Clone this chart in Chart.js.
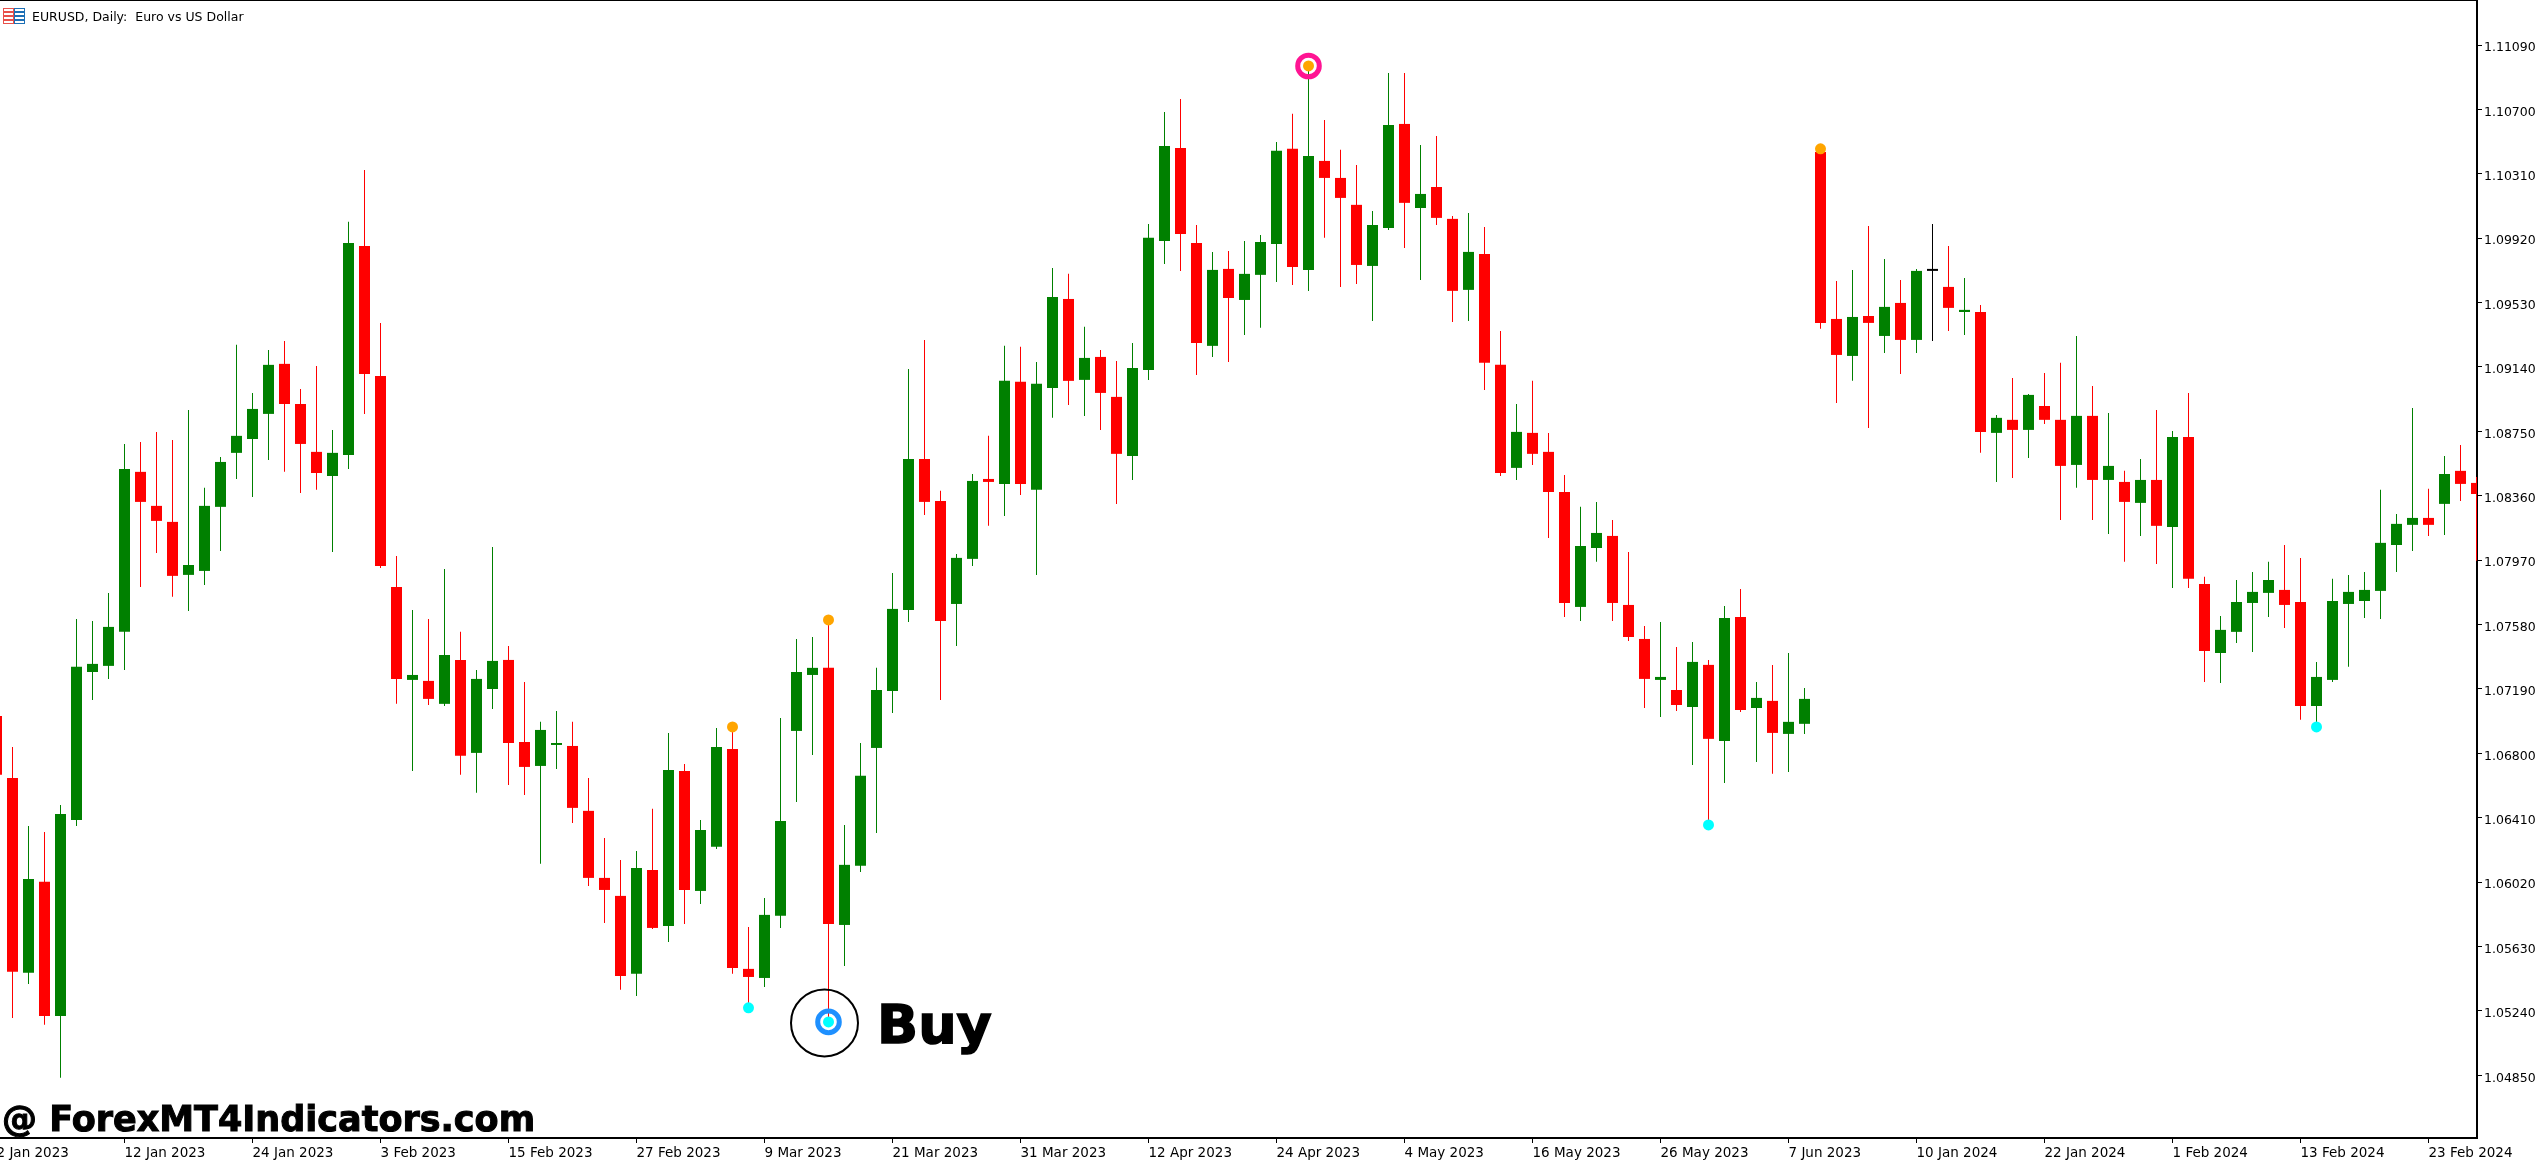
<!DOCTYPE html>
<html>
<head>
<meta charset="utf-8">
<title>EURUSD, Daily</title>
<script src="https://cdn.jsdelivr.net/npm/chart.js@4/dist/chart.umd.min.js"></script>
<style>
  html, body { margin: 0; padding: 0; background: #fff; }
  #wrap { position: relative; width: 2538px; height: 1160px; overflow: hidden; }
  #chart { position: absolute; left: 0; top: 0; }
  .topline { position: absolute; left: 0; top: 0; width: 2477px; height: 1px; background: #000; }
  .icon { position: absolute; top: 8px; width: 9px; height: 14px; border: 1px solid; box-sizing: content-box;
          background: repeating-linear-gradient(#fff 0 2px, currentColor 2px 4px); }
  .title { position: absolute; left: 32px; top: 9px; font: 12.5px "DejaVu Sans"; color: #000; white-space: pre; }
  .site { position: absolute; left: 2px; top: 1099px; font: bold 35px "DejaVu Sans"; color: #000; white-space: pre;
          -webkit-text-stroke: 1px #000; }
  .buy { position: absolute; left: 877px; top: 993px; font: bold 54px "DejaVu Sans"; color: #000;
         -webkit-text-stroke: 1.5px #000; }
</style>
</head>
<body>
<div id="wrap">
  <canvas id="chart" width="2538" height="1160"></canvas>
  <div class="topline"></div>
  <div class="icon" style="left:3px;color:#e8504a"></div>
  <div class="icon" style="left:14px;color:#1c6fb5"></div>
  <div class="title">EURUSD, Daily:  Euro vs US Dollar</div>
  <div class="site">@ ForexMT4Indicators.com</div>
  <div class="buy">Buy</div>
</div>
<script>
const opens = [
  1.07027, 1.06651, 1.05471, 1.06022, 1.05210, 1.06397, 1.07293, 1.07330, 1.07536, 1.08505,
  1.08299, 1.08202, 1.07881, 1.07905, 1.08293, 1.08620, 1.08704, 1.08856, 1.09159, 1.08916,
  1.08626, 1.08480, 1.08607, 1.09873, 1.09086, 1.07808, 1.07245, 1.07239, 1.07100, 1.07366,
  1.06803, 1.07190, 1.07366, 1.06869, 1.06724, 1.06851, 1.06845, 1.06452, 1.06046, 1.05937,
  1.05465, 1.06094, 1.05755, 1.06694, 1.05967, 1.06234, 1.06827, 1.05495, 1.05440, 1.05816,
  1.06936, 1.07275, 1.07318, 1.05761, 1.06119, 1.06833, 1.07178, 1.07669, 1.08583, 1.08329,
  1.07705, 1.07978, 1.08462, 1.08432, 1.09050, 1.08396, 1.09013, 1.09552, 1.09062, 1.09201,
  1.08959, 1.08601, 1.09122, 1.09903, 1.10467, 1.09891, 1.09268, 1.09734, 1.09546, 1.09698,
  1.09885, 1.10461, 1.09728, 1.10388, 1.10285, 1.10122, 1.09752, 1.09982, 1.10612, 1.10103,
  1.10230, 1.10037, 1.09607, 1.09825, 1.09153, 1.08529, 1.08741, 1.08626, 1.08383, 1.07687,
  1.08044, 1.08117, 1.07699, 1.07493, 1.07245, 1.07184, 1.07081, 1.07336, 1.06875, 1.07626,
  1.07075, 1.07118, 1.06918, 1.06979, 1.10442, 1.09431, 1.09207, 1.09449, 1.09328, 1.09528,
  1.09304, 1.09722, 1.09625, 1.09473, 1.09473, 1.08741, 1.08820, 1.08759, 1.08904, 1.08820,
  1.08547, 1.08844, 1.08456, 1.08444, 1.08317, 1.08456, 1.08171, 1.08716, 1.07826, 1.07408,
  1.07536, 1.07711, 1.07772, 1.07790, 1.07717, 1.07087, 1.07245, 1.07705, 1.07723, 1.07784,
  1.08062, 1.08184, 1.08226, 1.08311, 1.08511, 1.08438
]
const closes = [
  1.06670, 1.05477, 1.06040, 1.05210, 1.06433, 1.07324, 1.07342, 1.07566, 1.08523, 1.08323,
  1.08208, 1.07875, 1.07941, 1.08299, 1.08565, 1.08723, 1.08886, 1.09153, 1.08916, 1.08674,
  1.08498, 1.08620, 1.09891, 1.09098, 1.07935, 1.07251, 1.07275, 1.07130, 1.07396, 1.06785,
  1.07251, 1.07360, 1.06863, 1.06718, 1.06942, 1.06863, 1.06470, 1.06046, 1.05973, 1.05452,
  1.06106, 1.05743, 1.06700, 1.05973, 1.06336, 1.06839, 1.05501, 1.05446, 1.05822, 1.06391,
  1.07293, 1.07318, 1.05767, 1.06125, 1.06664, 1.07184, 1.07675, 1.08583, 1.08323, 1.07602,
  1.07984, 1.08450, 1.08444, 1.09056, 1.08432, 1.09038, 1.09564, 1.09056, 1.09195, 1.08983,
  1.08614, 1.09134, 1.09922, 1.10479, 1.09946, 1.09286, 1.09728, 1.09558, 1.09704, 1.09897,
  1.10449, 1.09746, 1.10418, 1.10285, 1.10164, 1.09758, 1.10000, 1.10606, 1.10134, 1.10188,
  1.10043, 1.09601, 1.09837, 1.09165, 1.08498, 1.08747, 1.08614, 1.08383, 1.07711, 1.08056,
  1.08135, 1.07711, 1.07505, 1.07251, 1.07263, 1.07093, 1.07354, 1.06888, 1.07620, 1.07063,
  1.07136, 1.06924, 1.06991, 1.07130, 1.09407, 1.09213, 1.09443, 1.09407, 1.09504, 1.09304,
  1.09722, 1.09722, 1.09498, 1.09486, 1.08747, 1.08832, 1.08759, 1.08971, 1.08820, 1.08541,
  1.08844, 1.08456, 1.08541, 1.08323, 1.08456, 1.08178, 1.08716, 1.07857, 1.07420, 1.07548,
  1.07717, 1.07778, 1.07850, 1.07699, 1.07087, 1.07263, 1.07723, 1.07778, 1.07790, 1.08075,
  1.08190, 1.08226, 1.08184, 1.08492, 1.08432, 1.08371
]
const highs = [
  1.07033, 1.06839, 1.06361, 1.06324, 1.06488, 1.07614, 1.07602, 1.07772, 1.08674, 1.08686,
  1.08747, 1.08698, 1.08880, 1.08408, 1.08595, 1.09274, 1.08983, 1.09243, 1.09298, 1.09007,
  1.09146, 1.08759, 1.10019, 1.10333, 1.09407, 1.07996, 1.07669, 1.07614, 1.07917, 1.07536,
  1.07305, 1.08050, 1.07451, 1.07233, 1.06991, 1.07057, 1.06991, 1.06651, 1.06288, 1.06155,
  1.06209, 1.06464, 1.06924, 1.06736, 1.06397, 1.06954, 1.06936, 1.05749, 1.05925, 1.07015,
  1.07493, 1.07505, 1.07578, 1.06367, 1.06863, 1.07318, 1.07893, 1.09128, 1.09304, 1.08390,
  1.08008, 1.08492, 1.08723, 1.09268, 1.09262, 1.09171, 1.09740, 1.09704, 1.09383, 1.09243,
  1.09177, 1.09286, 1.10006, 1.10685, 1.10763, 1.10000, 1.09837, 1.09843, 1.09903, 1.09940,
  1.10503, 1.10673, 1.10963, 1.10636, 1.10455, 1.10364, 1.10085, 1.10921, 1.10921, 1.10485,
  1.10539, 1.10055, 1.10073, 1.09988, 1.09358, 1.08916, 1.09056, 1.08741, 1.08486, 1.08293,
  1.08323, 1.08214, 1.08020, 1.07572, 1.07596, 1.07445, 1.07475, 1.07366, 1.07693, 1.07796,
  1.07233, 1.07336, 1.07408, 1.07196, 1.10455, 1.09661, 1.09728, 1.09994, 1.09794, 1.09667,
  1.09734, 1.10006, 1.09873, 1.09679, 1.09516, 1.08850, 1.09074, 1.08977, 1.09104, 1.09165,
  1.09328, 1.09025, 1.08862, 1.08511, 1.08583, 1.08880, 1.08753, 1.08983, 1.07869, 1.07632,
  1.07850, 1.07899, 1.07960, 1.08062, 1.07984, 1.07354, 1.07857, 1.07881, 1.07899, 1.08396,
  1.08250, 1.08892, 1.08402, 1.08601, 1.08668, 1.08474
]
const lows = [
  1.06664, 1.05198, 1.05404, 1.05156, 1.04835, 1.06361, 1.07124, 1.07251, 1.07305, 1.07808,
  1.08014, 1.07748, 1.07663, 1.07820, 1.08026, 1.08462, 1.08353, 1.08577, 1.08505, 1.08377,
  1.08396, 1.08020, 1.08523, 1.08856, 1.07923, 1.07100, 1.06694, 1.07093, 1.07087, 1.06670,
  1.06561, 1.07069, 1.06609, 1.06548, 1.06131, 1.06706, 1.06379, 1.05997, 1.05773, 1.05368,
  1.05331, 1.05737, 1.05658, 1.05767, 1.05888, 1.06221, 1.05465, 1.05277, 1.05386, 1.05743,
  1.06506, 1.06791, 1.05198, 1.05513, 1.06082, 1.06318, 1.07045, 1.07596, 1.08244, 1.07124,
  1.07451, 1.07935, 1.08178, 1.08238, 1.08365, 1.07881, 1.08832, 1.08910, 1.08844, 1.08759,
  1.08311, 1.08456, 1.09062, 1.09764, 1.09722, 1.09092, 1.09201, 1.09171, 1.09334, 1.09377,
  1.09655, 1.09637, 1.09601, 1.09922, 1.09625, 1.09643, 1.09419, 1.09970, 1.09861, 1.09667,
  1.10000, 1.09413, 1.09419, 1.09001, 1.08480, 1.08456, 1.08547, 1.08105, 1.07626, 1.07602,
  1.07960, 1.07602, 1.07481, 1.07075, 1.07021, 1.07057, 1.06730, 1.06397, 1.06621, 1.07051,
  1.06748, 1.06676, 1.06688, 1.06918, 1.09371, 1.08922, 1.09056, 1.08771, 1.09225, 1.09098,
  1.09225, 1.09298, 1.09358, 1.09334, 1.08620, 1.08444, 1.08468, 1.08589, 1.08795, 1.08214,
  1.08408, 1.08214, 1.08129, 1.07960, 1.08117, 1.07947, 1.07802, 1.07802, 1.07233, 1.07227,
  1.07469, 1.07414, 1.07626, 1.07560, 1.07003, 1.06984, 1.07233, 1.07324, 1.07620, 1.07614,
  1.07899, 1.08026, 1.08117, 1.08123, 1.08329, 1.07966
]

const priceTicks = [1.0485, 1.0524, 1.0563, 1.0602, 1.0641, 1.068, 1.0719, 1.0758, 1.0797, 1.0836, 1.0875, 1.0914, 1.0953, 1.0992, 1.1031, 1.107, 1.1109]
const dateTickIndex = [0, 8, 16, 24, 32, 40, 48, 56, 64, 72, 80, 88, 96, 104, 112, 120, 128, 136, 144, 152]
const dateTickLabels = ['2 Jan 2023', '12 Jan 2023', '24 Jan 2023', '3 Feb 2023', '15 Feb 2023', '27 Feb 2023', '9 Mar 2023', '21 Mar 2023', '31 Mar 2023', '12 Apr 2023', '24 Apr 2023', '4 May 2023', '16 May 2023', '26 May 2023', '7 Jun 2023', '10 Jan 2024', '22 Jan 2024', '1 Feb 2024', '13 Feb 2024', '23 Feb 2024']

// arrow dots of the indicator: candle index and price
const sellDotIndex = [46, 52, 82, 114]
const sellDotPrice = [1.06960, 1.07608, 1.10963, 1.10461]
const buyDotIndex = [47, 52, 107, 145]
const buyDotPrice = [1.05259, 1.05174, 1.06367, 1.06960]
const buyRing = { index: 52, price: 1.05174 }
const sellRing = { index: 82, price: 1.10963 }
const handCircle = { index: 51.75, price: 1.05168 }

const UP = '#008000'
const DOWN = '#ff0000'
const DOJI = '#000000'

const candleColors = opens.map((o, i) => closes[i] > o ? UP : closes[i] < o ? DOWN : DOJI)

function toPoints(idx, vals) {
  return idx.map((x, i) => ({ x: x, y: vals[i] }))
}

function noPadding(axis) {
  axis.paddingLeft = 0
  axis.paddingRight = 0
  axis.paddingTop = 0
  axis.paddingBottom = 0
}

new Chart(document.getElementById('chart').getContext('2d'), {
  type: 'bar',
  data: {
    datasets: [
      {
        type: 'scatter', order: 1,
        data: toPoints(sellDotIndex, sellDotPrice),
        pointRadius: 5.5, pointBackgroundColor: '#ffa500', pointBorderWidth: 0
      },
      {
        type: 'scatter', order: 1,
        data: toPoints(buyDotIndex, buyDotPrice),
        pointRadius: 5.5, pointBackgroundColor: '#00ffff', pointBorderWidth: 0
      },
      {
        type: 'scatter', order: 2,
        data: [{ x: buyRing.index, y: buyRing.price }],
        pointRadius: 10.8, pointBackgroundColor: 'rgba(0,0,0,0)', pointBorderColor: '#1e90ff', pointBorderWidth: 5
      },
      {
        type: 'scatter', order: 2,
        data: [{ x: sellRing.index, y: sellRing.price }],
        pointRadius: 10.8, pointBackgroundColor: 'rgba(0,0,0,0)', pointBorderColor: '#ff1493', pointBorderWidth: 5
      },
      {
        type: 'scatter', order: 2,
        data: [{ x: handCircle.index, y: handCircle.price }],
        pointRadius: 33.5, pointBackgroundColor: 'rgba(0,0,0,0)', pointBorderColor: '#000', pointBorderWidth: 2
      },
      {
        // bodies
        order: 3, grouped: false, barThickness: 11, minBarLength: 2, inflateAmount: 0,
        data: opens.map((o, i) => ({ x: i, y: [o, closes[i]] })),
        backgroundColor: candleColors, borderWidth: 0
      },
      {
        // wicks
        order: 4, grouped: false, barThickness: 1, inflateAmount: 0,
        data: lows.map((l, i) => ({ x: i, y: [l, highs[i]] })),
        backgroundColor: candleColors, borderWidth: 0
      }
    ]
  },
  options: {
    responsive: false,
    animation: false,
    layout: { autoPadding: false, padding: { left: 0, right: 0, top: 1, bottom: 0 } },
    plugins: { legend: { display: false }, tooltip: { enabled: false } },
    scales: {
      x: {
        type: 'linear',
        offset: false,
        min: 0.21875,
        max: 155.03125,
        grid: { drawOnChartArea: false, offset: false, color: '#000', tickLength: 5, tickWidth: 1 },
        border: { display: true, color: '#000', width: 2 },
        afterBuildTicks: axis => { axis.ticks = dateTickIndex.map(v => ({ value: v })) },
        afterFit: axis => { axis.height = 22; noPadding(axis) },
        ticks: {
          autoSkip: false, maxRotation: 0, minRotation: 0, align: 'start', padding: 2,
          color: '#000', font: { family: 'DejaVu Sans', size: 13.5 },
          callback: v => dateTickLabels[dateTickIndex.indexOf(v)]
        }
      },
      y: {
        position: 'right',
        min: 1.044708,
        max: 1.113565,
        grid: { drawOnChartArea: false, color: '#000', tickLength: 5, tickWidth: 1 },
        border: { display: true, color: '#000', width: 2 },
        afterBuildTicks: axis => { axis.ticks = priceTicks.map(v => ({ value: v })) },
        afterFit: axis => { axis.width = 61; noPadding(axis) },
        ticks: {
          padding: 2, labelOffset: 3, color: '#000', font: { family: 'DejaVu Sans', size: 12.5 },
          callback: v => v.toFixed(5)
        }
      }
    }
  }
})
</script>
</body>
</html>
